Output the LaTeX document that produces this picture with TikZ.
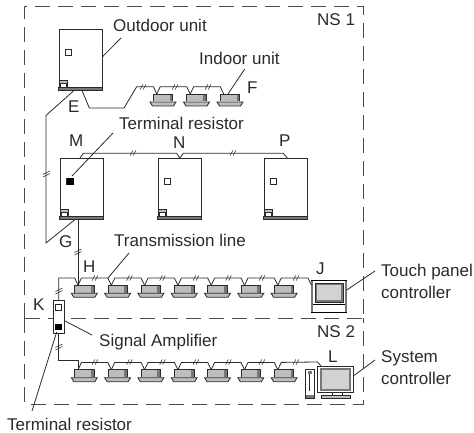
\documentclass[tikz,border=0pt]{standalone}
\usepackage{fontspec}
\setmainfont{Liberation Sans}
\usetikzlibrary{calc}

\definecolor{inkgray}{HTML}{2A2A2A}
\definecolor{framegray}{HTML}{4A4A4A}
\definecolor{bodygray}{HTML}{BDBDBD}
\definecolor{sidegray}{HTML}{777777}
\definecolor{screengray}{HTML}{D2D2D2}

\tikzset{
  label/.style={font=\fontsize{17}{21.5}\selectfont,text=inkgray,inner sep=0pt,anchor=base west},
  sidelabel/.style={font=\fontsize{17}{21.5}\selectfont,text=inkgray,inner sep=0pt,anchor=west,align=left},
  wire/.style={draw=inkgray,line width=0.8pt},
  lead/.style={draw=inkgray,line width=0.8pt},
  frame/.style={draw=framegray,line width=1pt,dash pattern=on 15pt off 8pt},
  unitbody/.style={draw=inkgray,line width=0.8pt,fill=white,inner sep=0pt,minimum width=43.5pt,minimum height=61pt},
  wirelink/.style={to path={-- ++(3.5,-7.3) -- ($(\tikztotarget)+(-3.5,-7.3)$) -- (\tikztotarget)}},
  pics/hticks/.style={code={
    \draw[inkgray,line width=0.6pt] (-2.8,2.6) -- (-0.2,-2.6);
    \draw[inkgray,line width=0.6pt] (0.2,2.6) -- (2.8,-2.6);
  }},
  pics/vticks/.style={code={
    \draw[inkgray,line width=0.6pt] (-3.5,0.5) -- (3.5,-3);
    \draw[inkgray,line width=0.6pt] (-3.5,3) -- (3.5,-0.5);
  }},
  pics/indoorunit/.style={code={
    \coordinate (-port) at (-6.3,0);
    \fill[bodygray] (-9.7,0) rectangle (9.7,7.5);
    \fill[sidegray] (6.5,0) rectangle (9.7,7.5);
    \draw[inkgray,line width=0.8pt] (-9.7,7.5) -- (-9.7,0) -- (9.7,0) -- (9.7,7.5);
    \draw[inkgray,line width=0.8pt,fill=bodygray] (-13,8) -- (13,8) -- (10.5,12) -- (-10.5,12) -- cycle;
  }},
  pics/bigunit/.style={code={
    \node[unitbody,anchor=north west] (-body) at (0,0) {};
    \fill[sidegray,draw=inkgray,line width=0.5pt] (0,58.5) rectangle (43.5,61);
    \draw[inkgray,line width=0.8pt,fill=bodygray] (0.5,51) rectangle (9,58.5);
    \draw[inkgray,line width=0.8pt,fill=white] (2,54) rectangle (8,58);
    \draw[inkgray,line width=0.8pt,fill=#1] (7,20) rectangle (13,26);
  }},
  pics/bigunit/.default=white
}

\begin{document}
\begin{tikzpicture}[x=1pt,y=-1pt]
\useasboundingbox (0,0) rectangle (474,433);

\draw[frame] (24.5,318) -- (24.5,6.5) -- (363.5,6.5) -- (363.5,318);
\draw[frame] (24.5,318) -- (24.5,404) -- (363.5,404) -- (363.5,318);
\draw[frame] (24.5,318) -- (363.5,318);

\pic (outdoor) at (58.5,29) {bigunit};
\pic (mainm) at (59.5,158) {bigunit};
\pic (mainn) at (157.5,158) {bigunit};
\pic (mainp) at (263.5,158) {bigunit};
\fill[black] (66.8,178) rectangle (73.8,185);

\pic (fone) at (163,94) {indoorunit};
\pic (ftwo) at (196.5,94) {indoorunit};
\pic (fthree) at (230,94) {indoorunit};

\pic (hone) at (84.3,285.3) {indoorunit};
\pic (htwo) at (117.6,285.3) {indoorunit};
\pic (hthree) at (150.9,285.3) {indoorunit};
\pic (hfour) at (184.2,285.3) {indoorunit};
\pic (hfive) at (217.5,285.3) {indoorunit};
\pic (hsix) at (250.8,285.3) {indoorunit};
\pic (hseven) at (284.1,285.3) {indoorunit};

\pic (lone) at (84.3,369.7) {indoorunit};
\pic (ltwo) at (117.6,369.7) {indoorunit};
\pic (lthree) at (150.9,369.7) {indoorunit};
\pic (lfour) at (184.2,369.7) {indoorunit};
\pic (lfive) at (217.5,369.7) {indoorunit};
\pic (lsix) at (250.8,369.7) {indoorunit};
\pic (lseven) at (284.1,369.7) {indoorunit};

\node[draw=inkgray,line width=0.8pt,fill=white,inner sep=0pt,minimum width=11.3pt,minimum height=33.4pt] (amp) at (58.7,317) {};
\draw[inkgray,line width=0.8pt,fill=white] (55.7,304.7) rectangle (61.7,310.7);
\fill[black] (55.3,323.7) rectangle (62,330.4);

\node[draw=black,line width=1.1pt,fill=white,inner sep=0pt,minimum width=35.4pt,minimum height=31.6pt] (touch) at (329,296.5) {};
\fill[sidegray] (311.3,280.7) rectangle (313.3,312.3);
\fill[sidegray] (344.7,280.7) rectangle (346.7,312.3);
\draw[sidegray,line width=1.6pt,fill=screengray] (316.5,284) rectangle (342,301);
\draw[inkgray,line width=0.6pt] (315.5,283) rectangle (343,302);
\draw[black,line width=0.8pt] (313,304.7) -- (345,304.7);
\fill[inkgray] (340,302.6) circle (0.9);

\node[draw=inkgray,line width=0.6pt,fill=white,inner sep=0pt,minimum width=8.5pt,minimum height=29pt] (tower) at (309.8,383.5) {};
\fill[sidegray] (305.5,395) rectangle (314,398);
\draw[inkgray,line width=1pt] (309.8,374) -- (309.8,391);
\fill[sidegray] (307.5,371) rectangle (312,374);

\node[draw=inkgray,line width=0.6pt,fill=white,inner sep=0pt,minimum width=36pt,minimum height=26pt] (monitor) at (335.3,379) {};
\draw[sidegray,line width=2pt,fill=screengray] (320.5,368.5) rectangle (350.2,389.5);
\draw[inkgray,line width=0.6pt,fill=white] (332,392) rectangle (342,395);
\draw[inkgray,line width=0.6pt,fill=bodygray] (321.7,395) rectangle (350,398.3);

\coordinate (ebend) at (46,115.5);
\coordinate (gbend) at (46,243);
\coordinate (wtwo) at (89.3,108);
\coordinate (wthree) at (124,108);
\coordinate (wfour) at (136.7,86.7);
\coordinate (wfive) at (153.5,86.7);
\coordinate (hbend) at (74.7,278);
\coordinate (lbend) at (78,360);
\coordinate (jport) at (311.5,285.3);
\coordinate (lport) at (321,366);
\coordinate (lcorner) at (317.5,362);
\coordinate (mbend) at (83.3,153.3);
\coordinate (nwest) at (176.7,153.3);
\coordinate (neast) at (183.3,153.3);
\coordinate (pwest) at (283.3,153.3);
\coordinate (ptop) at (287.3,158);
\coordinate (mtop) at (80,158);

\draw[wire] (outdoor-body.south) ++(-7,0) -- (ebend) -- (gbend) -- ($(mainm-body.south)+(-7,0)$);
\draw[wire] (outdoor-body.south) ++(1.5,0) -- (wtwo) -- (wthree) -- (wfour) -- (wfive) -- (fone-port);
\draw[wire] (fone-port) to[wirelink] (ftwo-port);
\draw[wire] (ftwo-port) to[wirelink] (fthree-port);

\draw[wire] (mtop) -- (mbend) -- (nwest) -- (mainn-body.north) -- (neast) -- (pwest) -- (ptop);

\draw[wire] (mainm-body.south) ++(-3.5,0) coordinate (gtop) -- (gtop |- hone-port);
\draw[wire] (amp.north) |- (hbend) -- (hone-port);
\draw[wire] (hone-port) to[wirelink] (htwo-port);
\draw[wire] (htwo-port) to[wirelink] (hthree-port);
\draw[wire] (hthree-port) to[wirelink] (hfour-port);
\draw[wire] (hfour-port) to[wirelink] (hfive-port);
\draw[wire] (hfive-port) to[wirelink] (hsix-port);
\draw[wire] (hsix-port) to[wirelink] (hseven-port);
\draw[wire] (hseven-port) to[wirelink] (jport);

\draw[wire] (amp.south) |- (lbend) -- (lone-port);
\draw[wire] (lone-port) to[wirelink] (ltwo-port);
\draw[wire] (ltwo-port) to[wirelink] (lthree-port);
\draw[wire] (lthree-port) to[wirelink] (lfour-port);
\draw[wire] (lfour-port) to[wirelink] (lfive-port);
\draw[wire] (lfive-port) to[wirelink] (lsix-port);
\draw[wire] (lsix-port) to[wirelink] (lseven-port);
\draw[wire] (lseven-port) -- ++(3.5,-7.3) -- (lcorner) -- (lport);

\pic at (143,87) {hticks};
\pic at (175,87) {hticks};
\pic at (208,87) {hticks};
\pic at (133,153) {hticks};
\pic at (233,153) {hticks};
\pic at (95,278) {hticks};
\pic at (129.5,278) {hticks};
\pic at (162.5,278) {hticks};
\pic at (196,278) {hticks};
\pic at (228.5,278) {hticks};
\pic at (262,278) {hticks};
\pic at (296,278) {hticks};
\pic at (95,362) {hticks};
\pic at (129.5,362) {hticks};
\pic at (162.5,362) {hticks};
\pic at (196,362) {hticks};
\pic at (228.5,362) {hticks};
\pic at (262,362) {hticks};
\pic at (296,362) {hticks};
\pic at (46.5,174) {vticks};
\pic at (78,252) {vticks};
\pic at (59,291) {vticks};
\pic at (59,347) {vticks};

\node[label] (outdoorlabel) at (113,32) {Outdoor unit};
\node[label] (indoorlabel) at (199,65) {Indoor unit};
\node[label] (ns1) at (317,26) {NS 1};
\node[label] (ns2) at (317,337) {NS 2};
\node[label] (termone) at (119,130) {Terminal resistor};
\node[label] (transline) at (114,246) {Transmission line};
\node[label] (amplabel) at (99,346) {Signal Amplifier};
\node[label] (termtwo) at (7,430) {Terminal resistor};
\node[label] (lblE) at (68,113) {E};
\node[label] (lblF) at (247,94) {F};
\node[label] (lblM) at (69,147) {M};
\node[label] (lblN) at (173,149) {N};
\node[label] (lblP) at (279,147) {P};
\node[label] (lblG) at (59,247) {G};
\node[label] (lblH) at (83,272) {H};
\node[label] (lblJ) at (316,274) {J};
\node[label] (lblK) at (33,310) {K};
\node[label] (lblL) at (328,362) {L};
\node[sidelabel] (touchlabel) at (381,281.5) {Touch panel\\controller};
\node[sidelabel] (systemlabel) at (381,367.5) {System\\controller};

\coordinate (outdoorlead) at (121,38);
\coordinate (indoorlead) at (244.7,69);
\coordinate (termonelead) at (113,133);
\coordinate (translead) at (129,253);
\coordinate (amplead) at (92,335);
\coordinate (termtwolead) at (32,411);
\coordinate (touchlead) at (375,271);
\coordinate (systemlead) at (375,360);
\coordinate (termonedot) at (72,176);
\coordinate (transend) at (108,278);
\coordinate (ampend) at (65,321);
\coordinate (termtwoend) at (56.7,332);
\coordinate (indoorend) at (228,94);
\coordinate (outdoorend) at (102.5,56.7);
\coordinate (touchend) at (346.7,290);
\coordinate (systemend) at (353.3,376);

\draw[lead] (outdoorlead) -- (outdoorend);
\draw[lead] (indoorlead) -- (indoorend);
\draw[lead] (termonelead) -- (termonedot);
\draw[lead] (translead) -- (transend);
\draw[lead] (amplead) -- (ampend);
\draw[lead] (termtwolead) -- (termtwoend);
\draw[lead] (touchlead) -- (touchend);
\draw[lead] (systemlead) -- (systemend);
\end{tikzpicture}
\end{document}
